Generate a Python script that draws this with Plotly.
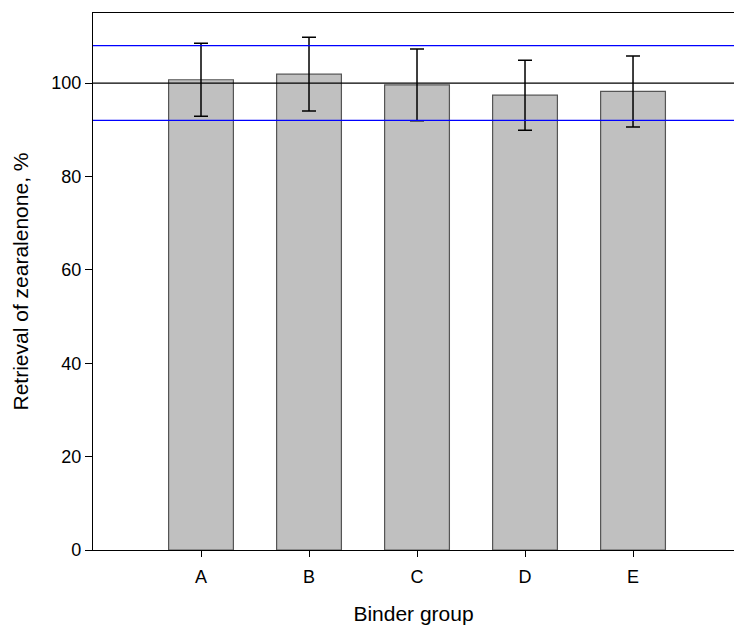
import plotly.graph_objects as go

groups = ["A", "B", "C", "D", "E"]
retrieval = [100.7, 101.9, 99.6, 97.4, 98.2]
err = [7.8, 7.9, 7.7, 7.5, 7.6]
ref_line = 100
lower_limit = 92
upper_limit = 108
y_ticks = [0, 20, 40, 60, 80, 100]

xpos = list(range(len(groups)))

fig = go.Figure()
fig.add_trace(go.Bar(
    x=xpos, y=retrieval, width=0.6,
    marker=dict(color="#c0c0c0", line=dict(color="#555555", width=1.2)),
    error_y=dict(type="data", array=err, visible=True, color="black", thickness=1.5, width=7),
    showlegend=False,
))

for val, col in [(ref_line, "black"), (lower_limit, "blue"), (upper_limit, "blue")]:
    fig.add_shape(type="line", xref="paper", x0=0, x1=1, yref="y", y0=val, y1=val,
                  line=dict(color=col, width=1.3), layer="above")

fig.update_layout(
    width=734, height=626,
    margin=dict(l=93, r=0, t=13, b=76),
    paper_bgcolor="white", plot_bgcolor="white",
    font=dict(family="Liberation Sans, Arial, sans-serif", size=18, color="black"),
    xaxis=dict(
        range=[-1, 4.935], tickmode="array", tickvals=xpos, ticktext=groups,
        showline=True, linecolor="black", linewidth=1.3, mirror=True,
        ticks="outside", ticklen=6, tickcolor="black", showgrid=False, zeroline=False,
        ticklabelstandoff=4,
        title=dict(text="Binder group", font=dict(size=21), standoff=20),
    ),
    yaxis=dict(
        range=[0, 115], tickmode="array", tickvals=y_ticks,
        showline=True, linecolor="black", linewidth=1.3,
        ticks="outside", ticklen=7, tickcolor="black", showgrid=False, zeroline=False,
        title=dict(text="Retrieval of zearalenone, %", font=dict(size=21), standoff=16),
    ),
)

fig.write_html(
    "out.html",
    config={"displayModeBar": False},
    post_script="document.body.style.margin='0px';document.body.style.overflow='hidden';",
)
